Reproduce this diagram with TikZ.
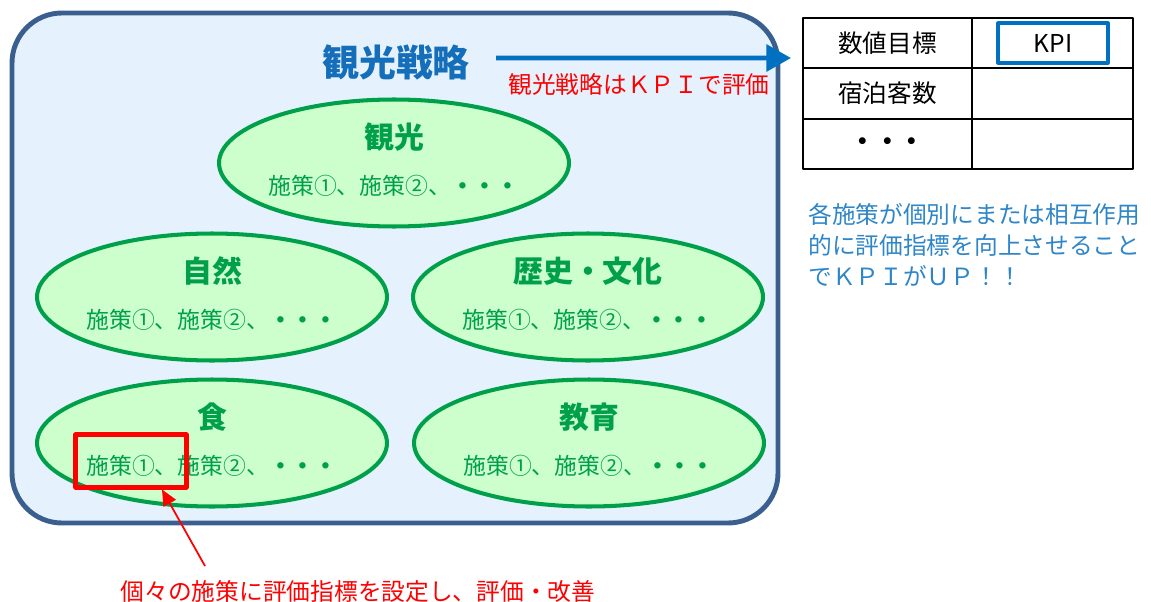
\documentclass[tikz,border=0pt]{standalone}
\usepackage{fontspec}
\setmainfont{Noto Sans CJK JP}
\usetikzlibrary{shapes.geometric,arrows.meta,positioning}
\definecolor{frame}{RGB}{58,95,143}
\definecolor{sky}{RGB}{229,242,253}
\definecolor{leaf}{RGB}{0,160,75}
\definecolor{leaffill}{RGB}{204,255,204}
\definecolor{strat}{RGB}{20,110,185}
\definecolor{note}{RGB}{46,134,200}
\definecolor{kpiblue}{RGB}{0,112,192}
\begin{document}
\begin{tikzpicture}[x=0.02cm,y=-0.02cm,line join=round,
    area/.style={ellipse,draw=leaf,line width=2.3pt,fill=leaffill,minimum width=7cm,minimum height=2.54cm},
    head/.style={text=leaf,font=\fontsize{17}{20}\selectfont\bfseries,inner sep=0pt},
    plan/.style={text=leaf,font=\fontsize{13}{15}\selectfont,inner sep=0pt},
    cella/.style={draw,line width=1.1pt,minimum width=3.38cm,minimum height=1cm,font=\fontsize{14}{17}\selectfont},
    cellb/.style={cella,minimum width=3.22cm},
    redtext/.style={text=red,font=\fontsize{13.5}{16}\selectfont,inner sep=0pt}]
  \useasboundingbox (0,0) rectangle (1151,601);
  \draw[frame,line width=2.8pt,fill=sky,rounded corners=1cm] (12,13) rectangle (778,523);
  \node[text=strat,font=\fontsize{21}{25}\selectfont\bfseries,inner sep=0pt] (senryaku) at (396,62) {観光戦略};
  \node[redtext] (hyoka) at (639,84) {観光戦略はＫＰＩで評価};
  \foreach \n/\x/\y/\t in {kanko/394/163/観光,shizen/212/297/自然,rekishi/588/297/歴史・文化,shoku/212/443/食,kyoiku/589/443/教育}{
    \node[area] (\n) at (\x,\y) {};
    \node[head] (\n-h) at (\x,\y-26) {\t};
    \node[plan] (\n-p) at (\x,\y+23) {施策①、施策②、{\bfseries ・・・}};
  }
  % KPI table
  \node[cella] (c11) at (887.5,43) {数値目標};
  \node[cellb] (c12) at (1052.5,43) {};
  \node[cella] (c21) at (887.5,93.5) {宿泊客数};
  \node[cellb] (c22) at (1052.5,93.5) {};
  \node[cella,font=\fontsize{14}{17}\selectfont\bfseries] (c31) at (887.5,144) {・・・};
  \node[cellb] (c32) at (1052.5,144) {};
  \node[draw=kpiblue,line width=1.8pt,minimum width=2.2cm,minimum height=0.8cm,font=\fontsize{14}{16}\selectfont] (kpi) at (1053,43) {KPI};
  \coordinate (aim) at (791,58);
  \draw[-{Triangle[length=14pt,width=15pt]},kpiblue,line width=2.8pt] ([xshift=0.52cm,yshift=0.08cm]senryaku.east) -- (aim);
  \node[text=note,align=left,anchor=west,font=\fontsize{13.5}{17.6}\selectfont,inner sep=0pt] (effect) at (808,245) {各施策が個別にまたは相互作用\\的に評価指標を向上させること\\でＫＰＩがＵＰ！！};
  % one policy and its indicator
  \node[draw=red,line width=2.3pt,minimum width=2.22cm,minimum height=1.06cm] (pick) at (131,461) {};
  \node[redtext] (kaizen) at (358,591) {個々の施策に評価指標を設定し、評価・改善};
  \coordinate (tail) at (205,566);
  \draw[-{Triangle[length=9pt,width=8pt]},red,line width=1pt] (tail) -- ([xshift=0.62cm]pick.south);
\end{tikzpicture}
\end{document}
